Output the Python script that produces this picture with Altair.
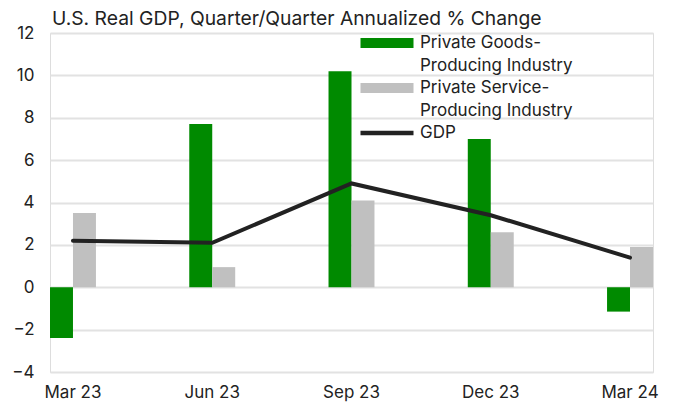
import altair as alt
import pandas as pd

title_text = "U.S. Real GDP, Quarter/Quarter Annualized % Change"
quarters = ["Mar 23", "Jun 23", "Sep 23", "Dec 23", "Mar 24"]
goods = [-2.4, 7.7, 10.2, 7.0, -1.15]
services = [3.5, 0.95, 4.1, 2.6, 1.9]
gdp = [2.2, 2.1, 4.9, 3.4, 1.4]

s_goods = "Private Goods-Producing Industry"
s_serv = "Private Service-Producing Industry"
s_gdp = "GDP"
series = [s_goods, s_serv, s_gdp]
colors = ["#008a00", "#c0c0c0", "#222222"]
# legend keys: wide rectangles for the bars, a thinner bar for the line
rect_sym = "M-2.65,-0.5H2.65V0.5H-2.65Z"
line_sym = "M-2.65,-0.22H2.65V0.22H-2.65Z"

bars_df = pd.DataFrame(
    {"quarter": quarters * 2,
     "series": [s_goods] * 5 + [s_serv] * 5,
     "value": goods + services}
)
line_df = pd.DataFrame({"quarter": quarters, "series": [s_gdp] * 5, "value": gdp})
all_df = pd.concat([bars_df, line_df], ignore_index=True)
title_df = pd.DataFrame({"t": [title_text]})

FONT = "Inter"

legend = alt.Legend(
    title=None,
    orient="none",
    legendX=327,
    legendY=0,
    symbolSize=400,
    symbolStrokeWidth=0,
    symbolOpacity=1,
    labelFont=FONT,
    labelFontSize=17,
    labelColor="#222222",
    labelOffset=23,
    labelLimit=400,
    rowPadding=4,
    labelExpr="split(replace(datum.label, '-', '-|'), '|')",
)

color = alt.Color("series:N", scale=alt.Scale(domain=series, range=colors), legend=legend)
shape = alt.Shape("series:N", scale=alt.Scale(domain=series, range=[rect_sym, rect_sym, line_sym]),
                  legend=legend)

x = alt.X(
    "quarter:N",
    sort=quarters,
    title=None,
    scale=alt.Scale(paddingInner=0.67, paddingOuter=0),
    axis=alt.Axis(labelAngle=0, domain=False, ticks=False, grid=False,
                  labelFont=FONT, labelFontSize=17, labelColor="#222222",
                  labelPadding=12),
)
y = alt.Y(
    "value:Q",
    title=None,
    scale=alt.Scale(domain=[-4, 12], nice=False, zero=False),
    axis=alt.Axis(values=[-4, -2, 0, 2, 4, 6, 8, 10, 12], domain=False, ticks=False,
                  grid=True, gridColor="#e2e2e2", gridWidth=2,
                  labelFont=FONT, labelFontSize=17, labelColor="#222222",
                  labelPadding=16),
)

bars = alt.Chart(bars_df).mark_bar().encode(
    x=x,
    xOffset=alt.XOffset("series:N", sort=[s_goods, s_serv],
                        scale=alt.Scale(paddingInner=0, paddingOuter=0)),
    y=y,
    color=color,
)

line = alt.Chart(line_df).mark_line(strokeWidth=4, strokeCap="round", strokeJoin="miter").encode(
    x=x,
    y=y,
    color=color,
)

# invisible points only used to give the legend its per-series symbol shapes
keys = alt.Chart(all_df).mark_point(filled=True, size=0, opacity=1).encode(
    x=x,
    y=y,
    color=color,
    shape=shape,
)

title = alt.Chart(title_df).mark_text(
    align="left", baseline="alphabetic", font=FONT, fontSize=19.3, color="#222222"
).encode(text="t:N", x=alt.value(2), y=alt.value(-8))

chart = (
    alt.layer(bars, line, keys, title)
    .properties(
        width=603,
        height=339,
        autosize=alt.AutoSizeParams(type="none"),
        padding={"left": 42, "top": 25, "right": 12, "bottom": 31},
    )
    .configure_view(stroke=None)
    .configure(style={"guide-label": {"lineHeight": 23}})
)

chart.save("out.html", embed_options={"renderer": "svg", "actions": False})
